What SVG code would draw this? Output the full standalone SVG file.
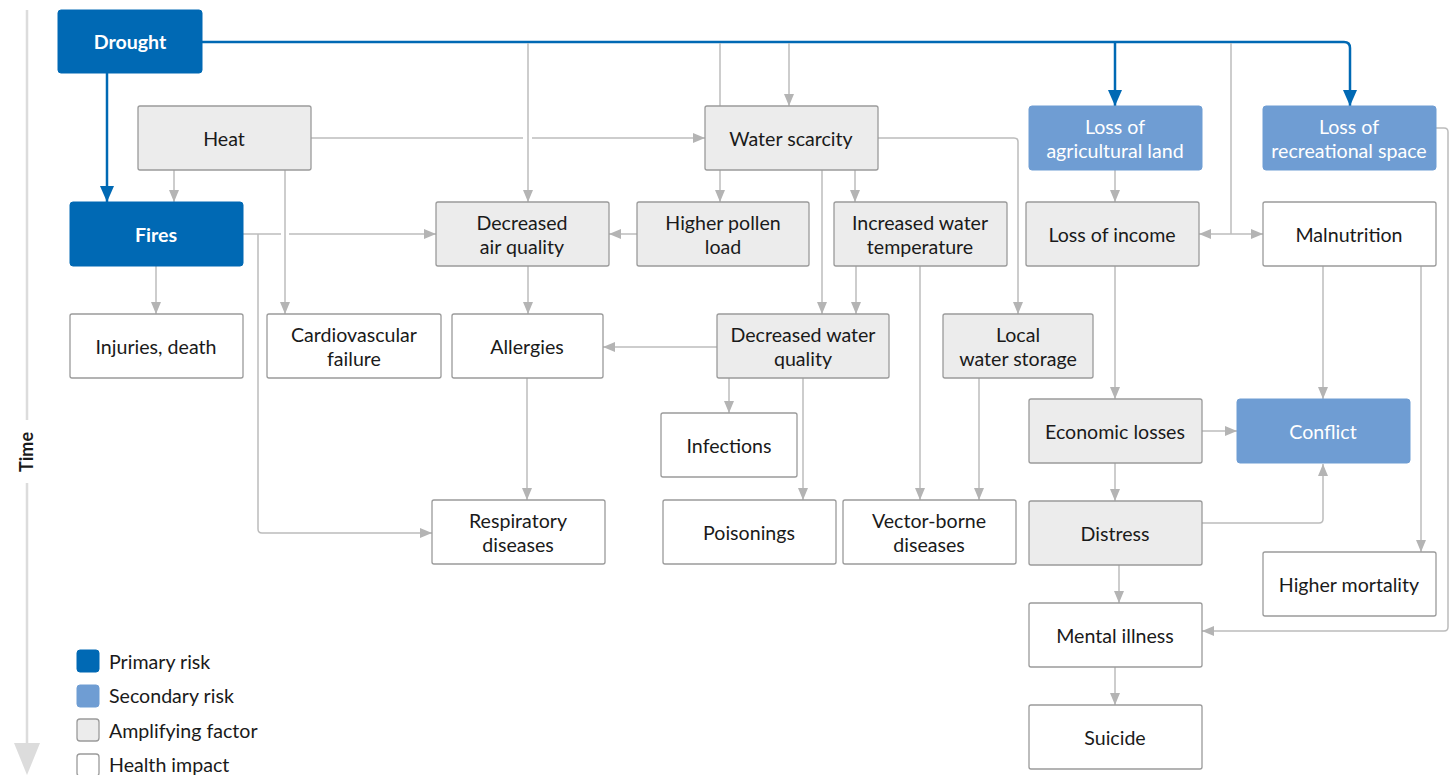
<svg xmlns="http://www.w3.org/2000/svg" width="1450" height="775" viewBox="0 0 1450 775">
<style>
.t{font-family:Lato,"Open Sans","Liberation Sans",sans-serif;font-size:19.6px;fill:#1a1a1a;text-anchor:middle}
.tw{fill:#fff}
.tb{font-weight:bold}
.p{fill:#0069b4;stroke:#0069b4;stroke-width:1}
.s{fill:#6f9dd3;stroke:#6f9dd3;stroke-width:1}
.a{fill:#ececec;stroke:#9a9a9a;stroke-width:1.3}
.h{fill:#fff;stroke:#9a9a9a;stroke-width:1.3}
.g{fill:none;stroke:#bcbcbc;stroke-width:1.5}
.b{fill:none;stroke:#0069b4;stroke-width:2.5}
.lg{font-family:Lato,"Open Sans","Liberation Sans",sans-serif;font-size:19.6px;fill:#1a1a1a}
</style>
<defs>
<marker id="ag" markerUnits="userSpaceOnUse" markerWidth="12" markerHeight="12" refX="12" refY="6" orient="auto">
<path d="M0,1 L12,6 L0,11 z" fill="#b4b4b4"/>
</marker>
<marker id="ags" markerUnits="userSpaceOnUse" markerWidth="12" markerHeight="12" refX="0" refY="6" orient="auto">
<path d="M12,1 L0,6 L12,11 z" fill="#b4b4b4"/>
</marker>
<marker id="ab" markerUnits="userSpaceOnUse" markerWidth="16" markerHeight="16" refX="16" refY="7" orient="auto">
<path d="M0,0 L16,7 L0,14 z" fill="#0069b4"/>
</marker>
</defs>

<!-- Time axis -->
<g id="time-axis">
<line x1="27" y1="10" x2="27" y2="420" stroke="#dcdcdc" stroke-width="2.5"/>
<line x1="27" y1="483" x2="27" y2="748" stroke="#dcdcdc" stroke-width="2.5"/>
<path d="M14,743 L40,743 L27,775 z" fill="#dcdcdc"/>
<text x="0" y="0" transform="translate(33,452) rotate(-90)" font-family="Lato,'Open Sans','Liberation Sans',sans-serif" font-size="18" font-weight="bold" fill="#1a1a1a" text-anchor="middle">Time</text>
</g>

<!-- Connectors -->
<g id="connectors">
<path class="b" d="M202,42 H1344 Q1350,42 1350,48 V106" marker-end="url(#ab)"/>
<path class="b" d="M1115,42 V106" marker-end="url(#ab)"/>
<path class="b" d="M107,73 V202" marker-end="url(#ab)"/>
<path class="g" d="M528,43 V202" marker-end="url(#ag)"/>
<path class="g" d="M720,43 V106"/>
<path class="g" d="M720,170 V202" marker-end="url(#ag)"/>
<path class="g" d="M789,43 V106" marker-end="url(#ag)"/>
<path class="g" d="M311,138 H523"/>
<path class="g" d="M532,138 H705" marker-end="url(#ag)"/>
<path class="g" d="M174,170 V202" marker-end="url(#ag)"/>
<path class="g" d="M285,170 V314" marker-end="url(#ag)"/>
<path class="g" d="M243,234 H281"/>
<path class="g" d="M289,234 H436" marker-end="url(#ag)"/>
<path class="g" d="M258,234 V529 Q258,533 262,533 H432" marker-end="url(#ag)"/>
<path class="g" d="M156,266 V314" marker-end="url(#ag)"/>
<path class="g" d="M637,234 H609" marker-end="url(#ag)"/>
<path class="g" d="M528,266 V314" marker-end="url(#ag)"/>
<path class="g" d="M527,378 V500" marker-end="url(#ag)"/>
<path class="g" d="M717,347 H603" marker-end="url(#ag)"/>
<path class="g" d="M822,170 V314" marker-end="url(#ag)"/>
<path class="g" d="M855,170 V202" marker-end="url(#ag)"/>
<path class="g" d="M856,266 V314" marker-end="url(#ag)"/>
<path class="g" d="M920,266 V500" marker-end="url(#ag)"/>
<path class="g" d="M878,138 H1014 Q1018,138 1018,142 V314" marker-end="url(#ag)"/>
<path class="g" d="M979,378 V500" marker-end="url(#ag)"/>
<path class="g" d="M729,378 V413" marker-end="url(#ag)"/>
<path class="g" d="M803,378 V500" marker-end="url(#ag)"/>
<path class="g" d="M1115,170 V202" marker-end="url(#ag)"/>
<path class="g" d="M1231,43 V234"/>
<path class="g" d="M1199,234 H1263" marker-start="url(#ags)" marker-end="url(#ag)"/>
<path class="g" d="M1115,266 V399" marker-end="url(#ag)"/>
<path class="g" d="M1323,266 V399" marker-end="url(#ag)"/>
<path class="g" d="M1421,266 V552" marker-end="url(#ag)"/>
<path class="g" d="M1202,431 H1237" marker-end="url(#ag)"/>
<path class="g" d="M1115,463 V501" marker-end="url(#ag)"/>
<path class="g" d="M1202,523 H1319 Q1323,523 1323,519 V464" marker-end="url(#ag)"/>
<path class="g" d="M1119,565 V603" marker-end="url(#ag)"/>
<path class="g" d="M1436,128 H1444 Q1448,128 1448,132 V627 Q1448,631 1444,631 H1202" marker-end="url(#ag)"/>
<path class="g" d="M1115,667 V705" marker-end="url(#ag)"/>
</g>

<!-- Nodes -->
<g id="drought"><rect class="p" x="58" y="10" width="144" height="63" rx="3"/><text class="t tw tb" x="130" y="49">Drought</text></g>
<g id="heat"><rect class="a" x="138" y="106" width="173" height="64" rx="2"/><text class="t" x="224" y="146">Heat</text></g>
<g id="fires"><rect class="p" x="70" y="202" width="173" height="64" rx="3"/><text class="t tw tb" x="156" y="242">Fires</text></g>
<g id="water-scarcity"><rect class="a" x="705" y="106" width="173" height="64" rx="2"/><text class="t" x="791" y="146">Water scarcity</text></g>
<g id="loss-agri"><rect class="s" x="1029" y="106" width="173" height="64" rx="3"/><text class="t tw" x="1115" y="134">Loss of</text><text class="t tw" x="1115" y="158">agricultural land</text></g>
<g id="loss-recr"><rect class="s" x="1263" y="106" width="173" height="64" rx="3"/><text class="t tw" x="1349" y="134">Loss of</text><text class="t tw" x="1349" y="158">recreational space</text></g>
<g id="decr-air"><rect class="a" x="436" y="202" width="173" height="64" rx="2"/><text class="t" x="522" y="230">Decreased</text><text class="t" x="522" y="254">air quality</text></g>
<g id="pollen"><rect class="a" x="637" y="202" width="172" height="64" rx="2"/><text class="t" x="723" y="230">Higher pollen</text><text class="t" x="723" y="254">load</text></g>
<g id="water-temp"><rect class="a" x="834" y="202" width="173" height="64" rx="2"/><text class="t" x="920" y="230">Increased water</text><text class="t" x="920" y="254">temperature</text></g>
<g id="loss-income"><rect class="a" x="1026" y="202" width="173" height="64" rx="2"/><text class="t" x="1112" y="242">Loss of income</text></g>
<g id="malnutrition"><rect class="h" x="1263" y="202" width="173" height="64" rx="2"/><text class="t" x="1349" y="242">Malnutrition</text></g>
<g id="injuries"><rect class="h" x="70" y="314" width="173" height="64" rx="2"/><text class="t" x="156" y="354">Injuries, death</text></g>
<g id="cardio"><rect class="h" x="267" y="314" width="174" height="64" rx="2"/><text class="t" x="354" y="342">Cardiovascular</text><text class="t" x="354" y="366">failure</text></g>
<g id="allergies"><rect class="h" x="452" y="314" width="151" height="64" rx="2"/><text class="t" x="527" y="354">Allergies</text></g>
<g id="decr-water"><rect class="a" x="717" y="314" width="172" height="64" rx="2"/><text class="t" x="803" y="342">Decreased water</text><text class="t" x="803" y="366">quality</text></g>
<g id="local-water"><rect class="a" x="943" y="314" width="150" height="64" rx="2"/><text class="t" x="1018" y="342">Local</text><text class="t" x="1018" y="366">water storage</text></g>
<g id="infections"><rect class="h" x="661" y="413" width="136" height="64" rx="2"/><text class="t" x="729" y="453">Infections</text></g>
<g id="econ-losses"><rect class="a" x="1029" y="399" width="173" height="64" rx="2"/><text class="t" x="1115" y="439">Economic losses</text></g>
<g id="conflict"><rect class="s" x="1237" y="399" width="173" height="64" rx="3"/><text class="t tw" x="1323" y="439">Conflict</text></g>
<g id="respiratory"><rect class="h" x="432" y="500" width="173" height="64" rx="2"/><text class="t" x="518" y="528">Respiratory</text><text class="t" x="518" y="552">diseases</text></g>
<g id="poisonings"><rect class="h" x="663" y="500" width="173" height="64" rx="2"/><text class="t" x="749" y="540">Poisonings</text></g>
<g id="vector"><rect class="h" x="843" y="500" width="173" height="64" rx="2"/><text class="t" x="929" y="528">Vector-borne</text><text class="t" x="929" y="552">diseases</text></g>
<g id="distress"><rect class="a" x="1029" y="501" width="173" height="64" rx="2"/><text class="t" x="1115" y="541">Distress</text></g>
<g id="mortality"><rect class="h" x="1263" y="552" width="173" height="64" rx="2"/><text class="t" x="1349" y="592">Higher mortality</text></g>
<g id="mental"><rect class="h" x="1029" y="603" width="173" height="64" rx="2"/><text class="t" x="1115" y="643">Mental illness</text></g>
<g id="suicide"><rect class="h" x="1029" y="705" width="173" height="64" rx="2"/><text class="t" x="1115" y="745">Suicide</text></g>

<!-- Legend -->
<g id="legend">
<rect class="p" x="77" y="650" width="22" height="22" rx="3"/><text class="lg" x="109" y="669">Primary risk</text>
<rect class="s" x="77" y="685" width="22" height="22" rx="3"/><text class="lg" x="109" y="703">Secondary risk</text>
<rect class="a" x="77" y="719" width="22" height="22" rx="3"/><text class="lg" x="109" y="738">Amplifying factor</text>
<rect class="h" x="77" y="754" width="22" height="22" rx="3"/><text class="lg" x="109" y="772">Health impact</text>
</g>
</svg>
